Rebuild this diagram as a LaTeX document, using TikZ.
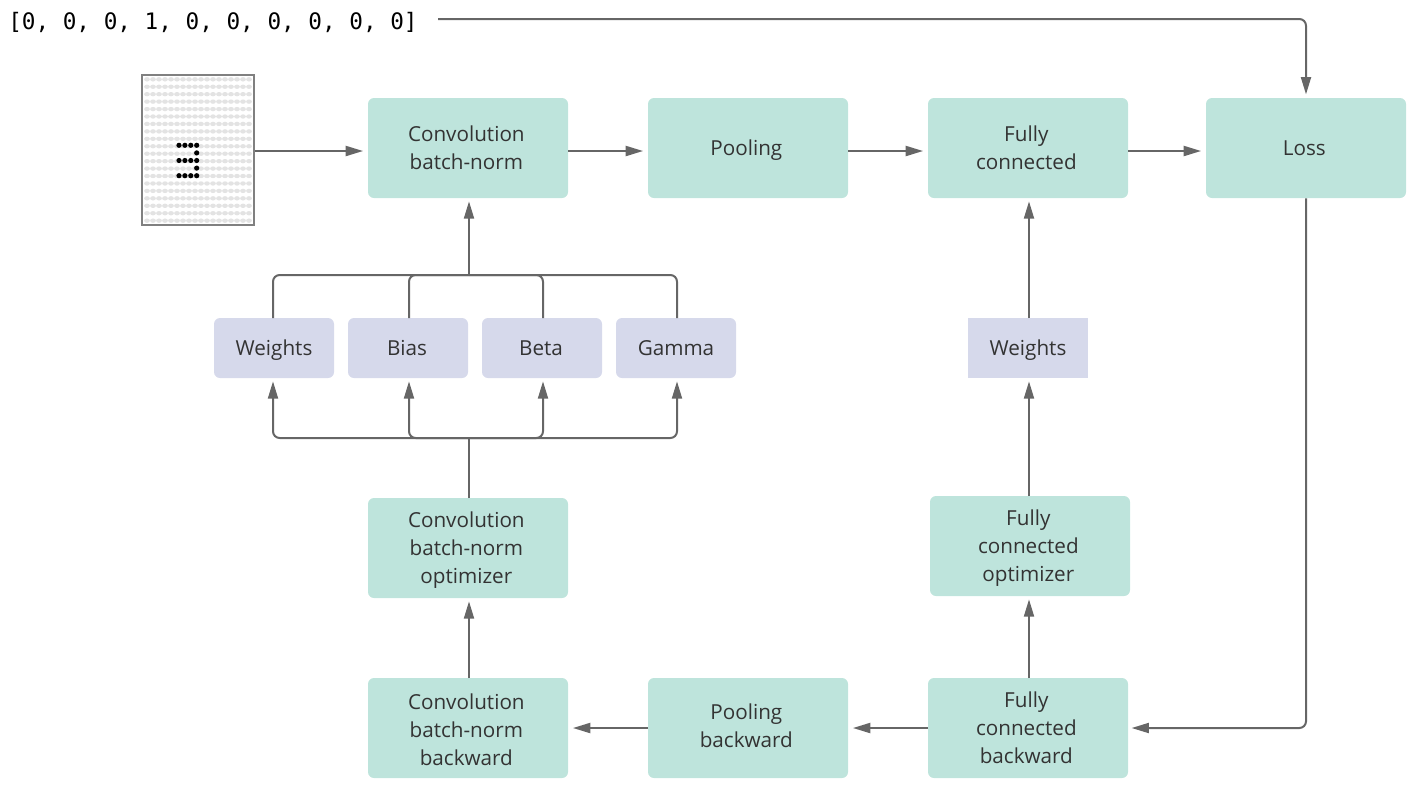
\documentclass[tikz,border=0pt]{standalone}
\usepackage{fontspec}
\setmainfont{Open Sans}
\newfontfamily\monof{DejaVu Sans Mono}
\usetikzlibrary{arrows.meta}
\definecolor{teal}{HTML}{BEE4DC}
\definecolor{lav}{HTML}{D6D9EB}
\definecolor{linec}{HTML}{666666}
\definecolor{txt}{HTML}{333333}
\def\bnudge{-3pt}\def\rnudge{0pt}
\tikzset{
  x=0.75pt,y=-0.75pt,
  bnudge/.code={\def\bnudge{#1}},
  rnudge/.code={\def\rnudge{#1}},
  tbox/.style={inner sep=0pt,text=txt,font=\fontsize{15.5}{21}\selectfont,
    execute at begin node={\centering\rightskip=\rnudge plus 1fil\strut},
    execute at end node={\strut\par\vspace*{\bnudge}}},
  boxa/.style={tbox,fill=teal,rounded corners=4.5pt,minimum width=150pt,minimum height=75pt,text width=150pt,rnudge=2.5pt},
  boxb/.style={tbox,fill=lav,rounded corners=4.5pt,minimum width=90pt,minimum height=45pt,text width=90pt},
  conn/.style={draw=linec,line width=1.5pt,rounded corners=5pt},
  arr/.style={conn,-{Triangle[length=13pt,width=7.5pt]},shorten >=2.5pt},
  arrh/.style={arr,shorten >=3.5pt},
}
\begin{document}
\begin{tikzpicture}
\useasboundingbox (0,0) rectangle (1418,790);
\node[anchor=west,inner sep=0pt,font=\monof\fontsize{17}{20}\selectfont,text=black] (label) at (8,22) {[0, 0, 0, 1, 0, 0, 0, 0, 0, 0]};
\coordinate (labelend) at (438,19);
% image
\foreach \r in {0,...,19}{\foreach \c in {0,...,17}{
  \fill[black!11] ({147+\c*6},{79.3+\r*7.44}) ellipse [x radius=2.9,y radius=2.2];}}
\foreach \ya/\xa in {0/0,0/1,0/2,0/3,1/3,2/0,2/1,2/2,2/3,3/3,4/0,4/1,4/2,4/3}{
  \fill[black] ({179+\xa*5.9},{145.3+\ya*7.6}) circle [radius=2.6];}
\node[draw=black!50,line width=1.5pt,minimum width=84pt,minimum height=112pt,inner sep=0pt] (img) at (197.5,150) {};
% nodes
\node[boxa] (conv) at (468,148) {Convolution\\batch-norm};
\node[boxa] (pool) at (748,148) {Pooling};
\node[boxa] (fc) at (1028,148) {Fully\\connected};
\node[boxa] (loss) at (1306,148) {Loss};
\node[boxb] (w) at (274,348) {Weights};
\node[boxb,rnudge=1.5pt] (bi) at (408,348) {Bias};
\node[boxb,rnudge=1.5pt] (be) at (542,348) {Beta};
\node[boxb] (g) at (676,348) {Gamma};
\node[boxb,rounded corners=0pt] (w2) at (1028,348) {Weights};
\node[boxa] (copt) at (468,548) {Convolution\\batch-norm\\optimizer};
\node[boxa] (fopt) at (1030,546) {Fully\\connected\\optimizer};
\node[boxa,bnudge=-6pt] (cback) at (468,728) {Convolution\\batch-norm\\backward};
\node[boxa,bnudge=0pt] (pback) at (748,728) {Pooling\\backward};
\node[boxa] (fback) at (1028,728) {Fully\\connected\\backward};
% connectors
\draw[arr] (labelend) -- (1306,19) -- (loss.north);
\draw[arrh] (img.east |- 0,151) -- (conv.west |- 0,151);
\draw[arrh] (conv.east |- 0,151) -- (pool.west |- 0,151);
\draw[arrh] (pool.east |- 0,151) -- (fc.west |- 0,151);
\draw[arrh] (fc.east |- 0,151) -- (loss.west |- 0,151);
\draw[arr] (loss.south) -- (1306,728) -- (fback.east);
\draw[arrh] (fback.west) -- (pback.east);
\draw[arrh] (pback.west) -- (cback.east);
\draw[arr] (469,678) -- (469,598);
\draw[arr] (1029,678) -- (1029,596);
\draw[arr] (1029,496) -- (1029,378);
\draw[arr] (1029,318) -- (1029,198);
% top bus
\draw[arr] (469,275) -- (469,198);
\draw[conn] (273,318) -- (273,275) -- (469,275);
\draw[conn] (409,318) -- (409,275) -- (469,275);
\draw[conn] (543,318) -- (543,275) -- (469,275);
\draw[conn] (677,318) -- (677,275) -- (469,275);
% bottom bus
\draw[conn] (469,498) -- (469,438);
\draw[arr] (469,438) -- (273,438) -- (273,378);
\draw[arr] (469,438) -- (409,438) -- (409,378);
\draw[arr] (469,438) -- (543,438) -- (543,378);
\draw[arr] (469,438) -- (677,438) -- (677,378);
\end{tikzpicture}
\end{document}
